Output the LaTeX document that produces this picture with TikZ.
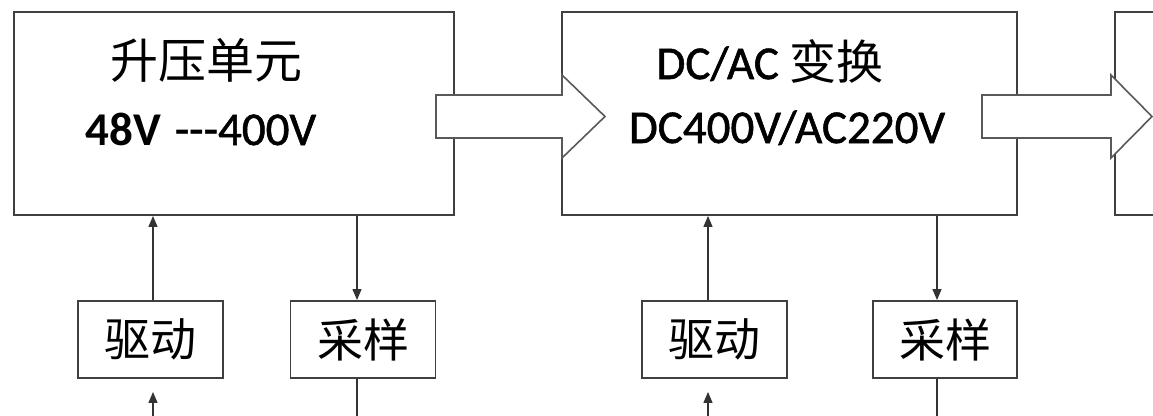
\documentclass[tikz,border=0pt]{standalone}
\usepackage{fontspec}
\setmainfont{Carlito}
\newfontfamily\heavy{Carlito}[FakeBold=1.2]
\newfontfamily\cjk{Noto Sans CJK SC}
\usetikzlibrary{arrows.meta}
\begin{document}
\begin{tikzpicture}[x=1pt,y=-1pt,
  blk/.style={draw=black!75, line width=1.9pt, fill=white, inner sep=0pt},
  bigbox/.style={blk, minimum height=203pt},
  smallbox/.style={blk, minimum width=145pt, minimum height=77pt, font=\cjk\fontsize{46}{46}\selectfont},
  conn/.style={draw=black!80, line width=1.3pt},
  tip/.style={-{Triangle[length=11pt,width=9pt]}},
  bigarrow/.style={draw=black!65, line width=1.6pt, fill=white, line join=miter},
  cn/.style={font=\cjk\fontsize{48}{48}\selectfont, inner sep=0pt},
  lat/.style={font=\heavy\fontsize{47}{47}\selectfont, inner sep=0pt}
]
\useasboundingbox (0,0) rectangle (1153,415);

% main boxes
\node[bigbox, minimum width=440pt] (b1) at (234,113.5) {};
\node[bigbox, minimum width=455pt] (b2) at (789.5,113.5) {};
\draw[blk, fill=none] (1165,12) -- (1115,12) -- (1115,215) -- (1165,215);

% texts in main boxes
\node[cn] (t1) at (206,60) {升压单元};
\node[lat, anchor=base] (t2) at (201,145) {{\normalfont\bfseries\fontsize{47}{47}\selectfont 48V}\hspace{3pt} -\kern0pt-\kern0pt-400V};
\node[lat] (t3) at (770,61) {DC/AC {\cjk 变换}};
\node[lat, anchor=base] (t4) at (787,143) {DC400V/AC220V};

% block arrows
\draw[bigarrow] (436,95) -- (562,95) -- (562,75) -- (605,116.5) -- (562,158) -- (562,138) -- (436,138) -- cycle;
\draw[bigarrow] (982,95) -- (1111,95) -- (1111,75) -- (1152,116.5) -- (1111,158) -- (1111,138) -- (982,138) -- cycle;

% small boxes
\node[smallbox] (d1) at (150.5,339.5) {驱动};
\node[smallbox] (s1) at (363,339.5) {采样};
\node[smallbox] (d2) at (714.5,339.5) {驱动};
\node[smallbox, minimum width=144pt] (s2) at (945,339.5) {采样};

% free ends at the bottom edge
\coordinate (d1in) at ([xshift=2.5pt]d1.south |- 0,425);
\coordinate (s1out) at ([xshift=-6pt]s1.south |- 0,425);
\coordinate (d2in) at ([xshift=-6.5pt]d2.south |- 0,425);
\coordinate (s2out) at ([xshift=-8pt]s2.south |- 0,425);

% connectors
\draw[conn, tip] ([xshift=2.5pt]d1.north) -- ([xshift=2.5pt]d1.north |- b1.south);
\draw[conn, tip] ([xshift=-6pt]s1.north |- b1.south) -- ([xshift=-6pt]s1.north);
\draw[conn, tip] ([xshift=-6.5pt]d2.north) -- ([xshift=-6.5pt]d2.north |- b2.south);
\draw[conn, tip] ([xshift=-8pt]s2.north |- b2.south) -- ([xshift=-8pt]s2.north);

\draw[conn, tip] (d1in) -- ([xshift=2.5pt,yshift=-13pt]d1.south);
\draw[conn] ([xshift=-6pt]s1.south) -- (s1out);
\draw[conn, tip] (d2in) -- ([xshift=-6.5pt,yshift=-13pt]d2.south);
\draw[conn] ([xshift=-8pt]s2.south) -- (s2out);
\end{tikzpicture}
\end{document}
